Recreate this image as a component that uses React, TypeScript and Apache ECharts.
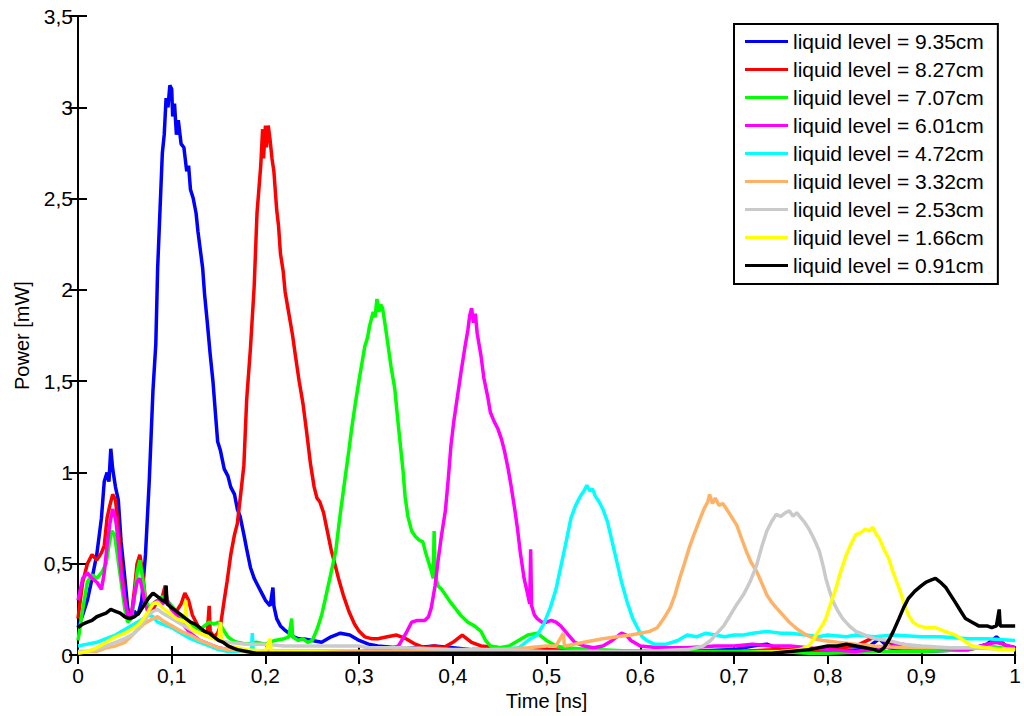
import React, { useEffect, useRef } from "react";
import * as echarts from "echarts";

const seriesNames = [
  "liquid level = 9.35cm",
  "liquid level = 8.27cm",
  "liquid level = 7.07cm",
  "liquid level = 6.01cm",
  "liquid level = 4.72cm",
  "liquid level = 3.32cm",
  "liquid level = 2.53cm",
  "liquid level = 1.66cm",
  "liquid level = 0.91cm",
];

const seriesColors = ["#0000FF", "#FF0000", "#00FF00", "#FF00FF", "#00FFFF", "#FFB266", "#CACACA", "#FFFF00", "#000000"];

const xTicks = [0, 0.1, 0.2, 0.3, 0.4, 0.5, 0.6, 0.7, 0.8, 0.9, 1];
const yTicks = [0, 0.5, 1, 1.5, 2, 2.5, 3, 3.5];

const level935: number[][] = [
  [0,0.15],[0.005,0.22],[0.01,0.3],[0.015,0.42],[0.02,0.55],[0.025,0.75],[0.028,0.95],[0.031,1.0],[0.033,0.95],[0.035,1.13],[0.037,1.02],[0.04,0.92],[0.043,0.85],[0.046,0.62],[0.05,0.42],[0.053,0.26],[0.056,0.2],[0.06,0.24],[0.064,0.22],[0.068,0.3],[0.072,0.55],[0.076,0.95],[0.08,1.45],[0.083,1.7],[0.085,2.12],[0.088,2.5],[0.09,2.75],[0.092,2.85],[0.094,3.05],[0.096,3.0],[0.098,3.12],[0.1,3.1],[0.101,2.95],[0.103,3.02],[0.105,2.85],[0.107,2.93],[0.11,2.8],[0.113,2.78],[0.116,2.65],[0.118,2.68],[0.12,2.55],[0.123,2.5],[0.126,2.42],[0.128,2.32],[0.131,2.2],[0.133,2.12],[0.135,1.98],[0.138,1.82],[0.141,1.65],[0.144,1.5],[0.147,1.3],[0.149,1.17],[0.152,1.12],[0.156,1.02],[0.16,0.98],[0.163,0.92],[0.167,0.88],[0.17,0.8],[0.173,0.76],[0.177,0.66],[0.18,0.58],[0.184,0.48],[0.188,0.42],[0.192,0.38],[0.194,0.36],[0.198,0.32],[0.2,0.3],[0.205,0.27],[0.208,0.37],[0.209,0.27],[0.212,0.2],[0.216,0.16],[0.22,0.14],[0.225,0.12],[0.23,0.1],[0.235,0.09],[0.24,0.09],[0.25,0.08],[0.26,0.07],[0.27,0.1],[0.28,0.12],[0.29,0.11],[0.3,0.08],[0.31,0.06],[0.32,0.05],[0.34,0.04],[0.36,0.04],[0.38,0.05],[0.4,0.04],[0.42,0.03],[0.45,0.03],[0.5,0.02],[0.55,0.02],[0.6,0.02],[0.65,0.02],[0.7,0.03],[0.72,0.05],[0.735,0.06],[0.75,0.03],[0.8,0.02],[0.84,0.03],[0.855,0.09],[0.865,0.04],[0.9,0.02],[0.95,0.03],[0.97,0.06],[0.98,0.1],[0.99,0.05],[1,0.04],
];

const level827: number[][] = [
  [0,0.2],[0.005,0.4],[0.01,0.5],[0.015,0.55],[0.02,0.52],[0.025,0.56],[0.028,0.6],[0.031,0.75],[0.034,0.82],[0.037,0.88],[0.04,0.85],[0.043,0.7],[0.046,0.5],[0.05,0.3],[0.053,0.22],[0.057,0.22],[0.06,0.35],[0.063,0.5],[0.066,0.55],[0.069,0.45],[0.072,0.3],[0.075,0.22],[0.08,0.25],[0.085,0.3],[0.088,0.28],[0.09,0.32],[0.093,0.38],[0.095,0.3],[0.1,0.25],[0.105,0.24],[0.11,0.28],[0.114,0.34],[0.118,0.3],[0.122,0.22],[0.126,0.18],[0.13,0.14],[0.135,0.12],[0.138,0.13],[0.14,0.27],[0.141,0.13],[0.145,0.1],[0.149,0.12],[0.152,0.16],[0.156,0.3],[0.159,0.4],[0.163,0.55],[0.167,0.66],[0.17,0.72],[0.174,0.9],[0.177,1.04],[0.18,1.4],[0.184,1.68],[0.188,2.02],[0.191,2.42],[0.193,2.55],[0.195,2.68],[0.197,2.88],[0.198,2.72],[0.2,2.9],[0.201,2.78],[0.203,2.9],[0.205,2.82],[0.207,2.72],[0.209,2.65],[0.212,2.44],[0.214,2.35],[0.216,2.2],[0.219,2.1],[0.221,1.99],[0.224,1.9],[0.226,1.84],[0.229,1.75],[0.232,1.64],[0.236,1.5],[0.24,1.38],[0.244,1.22],[0.248,1.05],[0.252,0.92],[0.255,0.86],[0.258,0.84],[0.262,0.78],[0.266,0.68],[0.27,0.58],[0.274,0.5],[0.278,0.42],[0.283,0.33],[0.289,0.24],[0.295,0.17],[0.3,0.13],[0.306,0.1],[0.313,0.09],[0.32,0.09],[0.33,0.1],[0.34,0.11],[0.35,0.09],[0.36,0.06],[0.37,0.04],[0.38,0.05],[0.39,0.04],[0.4,0.07],[0.41,0.11],[0.42,0.07],[0.43,0.05],[0.45,0.04],[0.47,0.03],[0.5,0.03],[0.55,0.02],[0.6,0.02],[0.65,0.02],[0.7,0.02],[0.75,0.03],[0.8,0.03],[0.83,0.05],[0.85,0.1],[0.86,0.08],[0.87,0.06],[0.88,0.05],[0.9,0.03],[0.95,0.03],[0.97,0.05],[0.98,0.09],[0.99,0.05],[1,0.04],
];

const level707: number[][] = [
  [0,0.08],[0.005,0.25],[0.01,0.4],[0.015,0.44],[0.02,0.42],[0.025,0.45],[0.03,0.5],[0.033,0.6],[0.036,0.68],[0.039,0.66],[0.042,0.55],[0.046,0.4],[0.05,0.25],[0.053,0.18],[0.057,0.2],[0.06,0.3],[0.063,0.45],[0.066,0.52],[0.069,0.42],[0.072,0.3],[0.076,0.26],[0.08,0.28],[0.085,0.3],[0.09,0.32],[0.095,0.3],[0.1,0.27],[0.105,0.24],[0.11,0.21],[0.115,0.19],[0.12,0.17],[0.125,0.15],[0.13,0.14],[0.135,0.16],[0.14,0.18],[0.145,0.17],[0.15,0.18],[0.155,0.14],[0.16,0.1],[0.165,0.08],[0.17,0.07],[0.18,0.06],[0.19,0.07],[0.2,0.06],[0.21,0.08],[0.22,0.09],[0.225,0.1],[0.228,0.2],[0.229,0.1],[0.235,0.08],[0.24,0.09],[0.245,0.07],[0.25,0.08],[0.255,0.14],[0.26,0.22],[0.264,0.31],[0.27,0.45],[0.275,0.57],[0.28,0.78],[0.285,0.97],[0.289,1.12],[0.292,1.24],[0.296,1.38],[0.3,1.51],[0.303,1.6],[0.306,1.69],[0.309,1.74],[0.311,1.8],[0.313,1.84],[0.315,1.88],[0.317,1.85],[0.319,1.95],[0.321,1.88],[0.323,1.92],[0.325,1.9],[0.328,1.8],[0.331,1.69],[0.334,1.58],[0.338,1.46],[0.341,1.3],[0.344,1.15],[0.347,1.0],[0.349,0.87],[0.352,0.76],[0.356,0.68],[0.36,0.65],[0.364,0.63],[0.368,0.62],[0.371,0.56],[0.374,0.51],[0.377,0.46],[0.379,0.42],[0.38,0.68],[0.381,0.44],[0.384,0.38],[0.388,0.36],[0.392,0.33],[0.396,0.3],[0.402,0.26],[0.408,0.22],[0.416,0.18],[0.423,0.16],[0.43,0.13],[0.435,0.08],[0.44,0.05],[0.45,0.04],[0.46,0.05],[0.47,0.08],[0.48,0.11],[0.49,0.12],[0.5,0.08],[0.51,0.05],[0.52,0.04],[0.55,0.03],[0.6,0.02],[0.65,0.02],[0.7,0.02],[0.75,0.02],[0.78,0.01],[0.8,0.01],[0.85,0.02],[0.9,0.02],[0.95,0.03],[0.97,0.05],[1,0.03],
];

const level601: number[][] = [
  [0,0.3],[0.005,0.42],[0.01,0.45],[0.015,0.42],[0.02,0.4],[0.025,0.36],[0.028,0.45],[0.031,0.6],[0.034,0.72],[0.037,0.8],[0.04,0.75],[0.043,0.62],[0.046,0.45],[0.05,0.3],[0.053,0.22],[0.057,0.22],[0.06,0.32],[0.063,0.4],[0.066,0.42],[0.069,0.35],[0.072,0.27],[0.076,0.24],[0.08,0.28],[0.085,0.3],[0.09,0.28],[0.095,0.3],[0.1,0.25],[0.105,0.22],[0.11,0.18],[0.115,0.15],[0.12,0.12],[0.125,0.1],[0.13,0.08],[0.14,0.06],[0.15,0.04],[0.16,0.03],[0.18,0.02],[0.2,0.02],[0.25,0.02],[0.3,0.02],[0.33,0.03],[0.342,0.05],[0.35,0.12],[0.356,0.18],[0.362,0.19],[0.37,0.19],[0.374,0.21],[0.377,0.26],[0.381,0.38],[0.384,0.51],[0.388,0.66],[0.392,0.79],[0.395,0.96],[0.398,1.15],[0.401,1.28],[0.405,1.42],[0.409,1.56],[0.413,1.69],[0.416,1.78],[0.418,1.86],[0.42,1.9],[0.422,1.82],[0.424,1.87],[0.426,1.76],[0.428,1.7],[0.43,1.64],[0.433,1.52],[0.437,1.42],[0.44,1.33],[0.444,1.28],[0.448,1.24],[0.452,1.18],[0.455,1.12],[0.459,1.02],[0.462,0.93],[0.466,0.8],[0.469,0.69],[0.472,0.56],[0.476,0.42],[0.48,0.33],[0.482,0.28],[0.483,0.58],[0.484,0.27],[0.487,0.22],[0.49,0.2],[0.495,0.18],[0.5,0.18],[0.505,0.19],[0.51,0.18],[0.515,0.16],[0.52,0.13],[0.525,0.1],[0.53,0.07],[0.54,0.05],[0.55,0.04],[0.56,0.05],[0.57,0.08],[0.58,0.12],[0.585,0.11],[0.59,0.08],[0.6,0.05],[0.62,0.04],[0.65,0.04],[0.68,0.05],[0.7,0.05],[0.72,0.06],[0.74,0.05],[0.76,0.05],[0.8,0.03],[0.83,0.02],[0.86,0.04],[0.88,0.06],[0.9,0.04],[0.95,0.03],[0.97,0.06],[0.98,0.07],[1,0.04],
];

const level472: number[][] = [
  [0,0.05],[0.01,0.06],[0.02,0.07],[0.03,0.09],[0.04,0.11],[0.05,0.14],[0.06,0.17],[0.07,0.2],[0.075,0.22],[0.08,0.21],[0.085,0.18],[0.09,0.17],[0.1,0.15],[0.11,0.12],[0.12,0.09],[0.13,0.07],[0.14,0.05],[0.15,0.03],[0.16,0.02],[0.185,0.02],[0.186,0.12],[0.187,0.02],[0.2,0.02],[0.25,0.02],[0.3,0.02],[0.35,0.02],[0.4,0.02],[0.45,0.03],[0.47,0.04],[0.483,0.09],[0.49,0.11],[0.497,0.17],[0.504,0.26],[0.51,0.36],[0.515,0.48],[0.52,0.6],[0.526,0.75],[0.531,0.82],[0.536,0.87],[0.54,0.9],[0.543,0.93],[0.546,0.9],[0.549,0.91],[0.552,0.87],[0.556,0.84],[0.56,0.8],[0.565,0.73],[0.57,0.62],[0.575,0.51],[0.58,0.4],[0.586,0.29],[0.592,0.2],[0.597,0.15],[0.602,0.1],[0.607,0.08],[0.615,0.06],[0.628,0.06],[0.64,0.08],[0.65,0.11],[0.66,0.1],[0.67,0.12],[0.68,0.11],[0.69,0.1],[0.7,0.11],[0.71,0.11],[0.72,0.12],[0.735,0.13],[0.75,0.12],[0.76,0.12],[0.777,0.11],[0.79,0.1],[0.8,0.11],[0.82,0.1],[0.83,0.11],[0.85,0.1],[0.87,0.11],[0.9,0.1],[0.92,0.1],[0.95,0.09],[0.97,0.09],[1,0.08],
];

const level332: number[][] = [
  [0,0.02],[0.01,0.02],[0.02,0.02],[0.03,0.04],[0.04,0.05],[0.05,0.07],[0.06,0.12],[0.07,0.17],[0.08,0.2],[0.085,0.21],[0.09,0.19],[0.1,0.16],[0.11,0.13],[0.12,0.11],[0.13,0.08],[0.14,0.06],[0.15,0.04],[0.16,0.03],[0.18,0.02],[0.2,0.02],[0.25,0.02],[0.3,0.02],[0.35,0.02],[0.4,0.02],[0.45,0.03],[0.48,0.04],[0.5,0.05],[0.51,0.05],[0.518,0.12],[0.519,0.05],[0.53,0.06],[0.54,0.07],[0.55,0.08],[0.56,0.09],[0.575,0.1],[0.59,0.11],[0.6,0.12],[0.61,0.13],[0.618,0.15],[0.625,0.2],[0.632,0.26],[0.637,0.33],[0.642,0.42],[0.647,0.5],[0.653,0.6],[0.658,0.67],[0.664,0.75],[0.668,0.8],[0.672,0.84],[0.674,0.88],[0.677,0.83],[0.68,0.86],[0.684,0.82],[0.688,0.83],[0.692,0.8],[0.697,0.76],[0.703,0.71],[0.708,0.64],[0.713,0.57],[0.718,0.51],[0.724,0.46],[0.73,0.39],[0.735,0.33],[0.74,0.29],[0.745,0.26],[0.752,0.22],[0.759,0.18],[0.768,0.14],[0.777,0.11],[0.786,0.09],[0.795,0.08],[0.81,0.07],[0.83,0.06],[0.85,0.05],[0.88,0.04],[0.9,0.04],[0.95,0.04],[1,0.03],
];

const level253: number[][] = [
  [0,0.02],[0.01,0.02],[0.02,0.03],[0.03,0.05],[0.04,0.07],[0.05,0.09],[0.06,0.12],[0.07,0.18],[0.075,0.22],[0.08,0.24],[0.085,0.25],[0.09,0.23],[0.1,0.2],[0.11,0.17],[0.12,0.14],[0.13,0.12],[0.14,0.1],[0.15,0.08],[0.16,0.07],[0.18,0.06],[0.2,0.06],[0.22,0.05],[0.25,0.05],[0.28,0.05],[0.3,0.05],[0.31,0.04],[0.33,0.04],[0.35,0.04],[0.4,0.03],[0.45,0.03],[0.5,0.02],[0.55,0.02],[0.6,0.02],[0.65,0.03],[0.66,0.04],[0.667,0.05],[0.675,0.08],[0.682,0.12],[0.689,0.16],[0.695,0.21],[0.702,0.27],[0.71,0.33],[0.717,0.4],[0.724,0.49],[0.73,0.6],[0.735,0.68],[0.74,0.73],[0.745,0.77],[0.75,0.76],[0.755,0.78],[0.759,0.79],[0.763,0.76],[0.767,0.78],[0.77,0.76],[0.775,0.73],[0.78,0.69],[0.785,0.64],[0.791,0.57],[0.795,0.49],[0.798,0.42],[0.802,0.35],[0.806,0.29],[0.811,0.24],[0.816,0.2],[0.823,0.16],[0.83,0.13],[0.84,0.11],[0.85,0.09],[0.865,0.08],[0.88,0.06],[0.9,0.05],[0.93,0.04],[0.96,0.04],[1,0.03],
];

const level166: number[][] = [
  [0,0.01],[0.01,0.02],[0.02,0.04],[0.03,0.07],[0.04,0.1],[0.05,0.12],[0.06,0.15],[0.065,0.17],[0.07,0.2],[0.075,0.24],[0.08,0.28],[0.085,0.29],[0.09,0.26],[0.095,0.24],[0.1,0.22],[0.105,0.2],[0.11,0.19],[0.114,0.18],[0.115,0.3],[0.116,0.18],[0.12,0.15],[0.125,0.13],[0.13,0.12],[0.14,0.1],[0.15,0.08],[0.152,0.18],[0.153,0.08],[0.16,0.05],[0.17,0.04],[0.18,0.03],[0.2,0.02],[0.205,0.09],[0.206,0.02],[0.22,0.02],[0.25,0.02],[0.3,0.01],[0.35,0.01],[0.4,0.01],[0.45,0.01],[0.5,0.01],[0.55,0.01],[0.6,0.01],[0.65,0.01],[0.7,0.01],[0.75,0.02],[0.77,0.03],[0.78,0.05],[0.784,0.08],[0.79,0.13],[0.795,0.17],[0.798,0.2],[0.803,0.28],[0.809,0.37],[0.814,0.46],[0.82,0.55],[0.825,0.61],[0.83,0.66],[0.835,0.67],[0.84,0.69],[0.844,0.68],[0.848,0.7],[0.852,0.66],[0.855,0.64],[0.86,0.58],[0.865,0.53],[0.87,0.45],[0.876,0.37],[0.881,0.29],[0.886,0.22],[0.891,0.18],[0.897,0.16],[0.905,0.15],[0.915,0.15],[0.925,0.13],[0.936,0.11],[0.945,0.08],[0.954,0.05],[0.97,0.04],[0.985,0.03],[1,0.03],
];

const level091: number[][] = [
  [0,0.15],[0.005,0.17],[0.01,0.18],[0.015,0.19],[0.02,0.21],[0.025,0.22],[0.03,0.23],[0.035,0.25],[0.04,0.24],[0.045,0.23],[0.05,0.21],[0.055,0.2],[0.06,0.21],[0.065,0.23],[0.07,0.27],[0.075,0.31],[0.08,0.34],[0.085,0.32],[0.09,0.3],[0.093,0.29],[0.094,0.38],[0.095,0.28],[0.1,0.26],[0.105,0.24],[0.11,0.22],[0.115,0.2],[0.12,0.18],[0.125,0.17],[0.13,0.15],[0.135,0.13],[0.14,0.12],[0.145,0.1],[0.15,0.08],[0.155,0.07],[0.16,0.05],[0.165,0.04],[0.17,0.03],[0.18,0.02],[0.19,0.01],[0.2,0.01],[0.25,0.01],[0.3,0.01],[0.35,0.01],[0.4,0.01],[0.45,0.01],[0.5,0.01],[0.55,0.01],[0.6,0.01],[0.65,0.01],[0.7,0.01],[0.74,0.01],[0.76,0.02],[0.78,0.03],[0.8,0.05],[0.81,0.05],[0.82,0.06],[0.83,0.05],[0.84,0.04],[0.85,0.03],[0.855,0.02],[0.86,0.04],[0.865,0.08],[0.87,0.13],[0.876,0.2],[0.881,0.26],[0.886,0.31],[0.893,0.35],[0.9,0.38],[0.905,0.4],[0.91,0.41],[0.915,0.42],[0.92,0.4],[0.926,0.37],[0.931,0.33],[0.936,0.29],[0.942,0.24],[0.947,0.2],[0.954,0.18],[0.961,0.16],[0.97,0.16],[0.975,0.15],[0.98,0.16],[0.983,0.25],[0.984,0.16],[0.99,0.16],[1,0.16],
];

const allSeries = [level935, level827, level707, level601, level472, level332, level253, level166, level091];

const FONT = "'Liberation Sans', Arial, Helvetica, sans-serif";

const fmt = (v: number) => String(Math.round(v * 10) / 10).replace(".", ",");

export default function App() {
  const ref = useRef<HTMLDivElement>(null);
  useEffect(() => {
    if (!ref.current) return;
    const chart = echarts.init(ref.current, undefined, { renderer: "svg" });
    const axisLine = { show: true, lineStyle: { color: "#000", width: 2 } };
    const axisTick = { show: true, inside: true, length: 9, lineStyle: { color: "#000", width: 2 } };
    chart.setOption({
      animation: false,
      backgroundColor: "#ffffff",
      grid: { left: 78, right: 4, top: 16, bottom: 59, containLabel: false },
      legend: {
        data: seriesNames,
        orient: "vertical",
        left: 734,
        top: 24,
        icon: "rect",
        itemWidth: 43,
        itemHeight: 3,
        itemGap: 7,
        selectedMode: false,
        backgroundColor: "#ffffff",
        borderColor: "#000000",
        borderWidth: 2,
        borderRadius: 0,
        padding: [7, 14, 8, 11],
        textStyle: { fontFamily: FONT, fontSize: 21, color: "#000", lineHeight: 20.3 },
        z: 10,
      },
      xAxis: [
        {
          type: "value",
          min: xTicks[0],
          max: xTicks[xTicks.length - 1],
          interval: 0.1,
          position: "bottom",
          name: "Time [ns]",
          nameLocation: "middle",
          nameGap: 30,
          nameTextStyle: { fontFamily: FONT, fontSize: 20, color: "#000" },
          axisLine,
          axisTick,
          splitLine: { show: false },
          axisLabel: { show: true, margin: 10, fontFamily: FONT, fontSize: 21, color: "#000", formatter: fmt },
        },
        {
          type: "value",
          min: xTicks[0],
          max: xTicks[xTicks.length - 1],
          interval: 0.1,
          position: "top",
          axisLine,
          axisTick,
          splitLine: { show: false },
          axisLabel: { show: false },
        },
      ],
      yAxis: [
        {
          type: "value",
          min: yTicks[0],
          max: yTicks[yTicks.length - 1],
          interval: 0.5,
          position: "left",
          name: "Power [mW]",
          nameLocation: "middle",
          nameGap: 46,
          nameTextStyle: { fontFamily: FONT, fontSize: 20, color: "#000" },
          axisLine,
          axisTick,
          splitLine: { show: false },
          axisLabel: { show: true, margin: 5, fontFamily: FONT, fontSize: 21, color: "#000", formatter: fmt },
        },
        {
          type: "value",
          min: yTicks[0],
          max: yTicks[yTicks.length - 1],
          interval: 0.5,
          position: "right",
          axisLine,
          axisTick,
          splitLine: { show: false },
          axisLabel: { show: false },
        },
      ],
      series: allSeries.map((d, i) => ({
        name: seriesNames[i],
        type: "line",
        data: d,
        xAxisIndex: 0,
        yAxisIndex: 0,
        symbol: "none",
        showSymbol: false,
        clip: true,
        color: seriesColors[i],
        lineStyle: { color: seriesColors[i], width: 3.5 },
        itemStyle: { color: seriesColors[i] },
        emphasis: { disabled: true },
      })),
    });
    return () => chart.dispose();
  }, []);
  return (
    <div
      ref={ref}
      style={{ position: "absolute", left: 0, top: 0, width: 1024, height: 716, background: "#fff" }}
    />
  );
}
